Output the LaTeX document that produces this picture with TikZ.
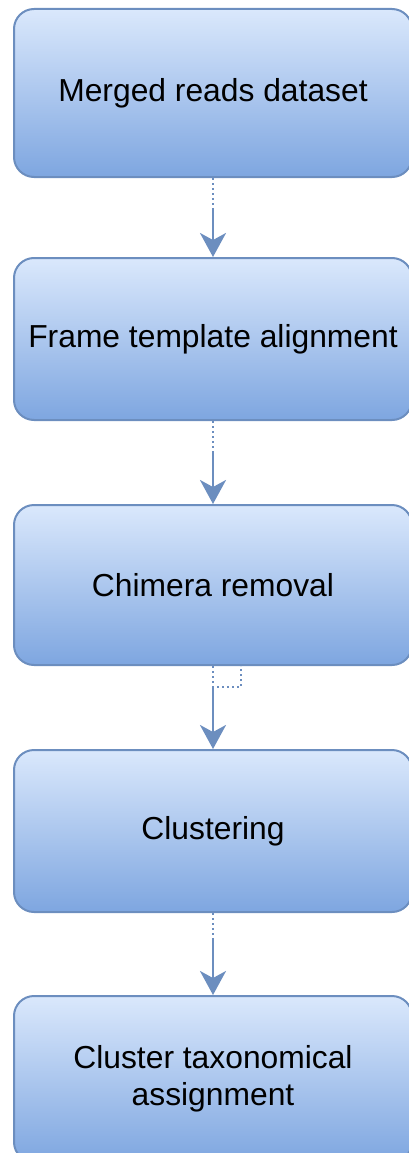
\documentclass[tikz,border=0pt]{standalone}
\usepackage{fontspec}
\setmainfont{Liberation Sans}
\usetikzlibrary{arrows.meta,calc}
\definecolor{boxtop}{HTML}{DAE8FC}
\definecolor{boxbot}{HTML}{7EA6E0}
\definecolor{boxline}{HTML}{6C8EBF}
\begin{document}
\begin{tikzpicture}[x=1pt,y=-1pt,
  stagebox/.style={draw=boxline, line width=2pt, rounded corners=20pt,
    top color=boxtop, bottom color=boxbot, minimum width=398pt,
    align=center, inner sep=0pt,
    font=\fontsize{31.8}{37}\selectfont},
  dotline/.style={draw=boxline, line width=2.5pt, dash pattern=on 2.2pt off 2.8pt},
  flow/.style={draw=boxline, line width=2.5pt,
    -{Stealth[length=24pt,width=26pt,inset=7pt]}}]
\useasboundingbox (0,0) rectangle (408,1153);

% pipeline stages
\node[stagebox, minimum height=168pt] (n1) at (213,93)  {Merged reads dataset};
\node[stagebox, minimum height=162pt] (n2) at (213,339) {Frame template alignment};
\node[stagebox, minimum height=160pt] (n3) at (213,585) {Chimera removal};
\node[stagebox, minimum height=162pt] (n4) at (213,831) {Clustering};
\node[stagebox, minimum height=166pt] (n5) at (213,1079) {Cluster taxonomical\\assignment};

% connectors: dotted lead-out, solid arrow into the next stage
\coordinate (m1) at (213,210);
\draw[dotline] (n1.south) -- (m1);
\draw[flow] (m1) -- (n2.north);

\coordinate (m2) at (213,452);
\draw[dotline] (n2.south) -- (m2);
\draw[flow] (m2) -- (n3.north);

\coordinate (m3) at (213,687);
\coordinate (h3) at (241,687);
\draw[dotline] (n3.south) -- (m3) -- (h3) -- (h3 |- n3.south);
\draw[flow] (m3) -- (n4.north);

\coordinate (m4) at (213,940);
\draw[dotline] (n4.south) -- (m4);
\draw[flow] (m4) -- (n5.north);
\end{tikzpicture}
\end{document}
